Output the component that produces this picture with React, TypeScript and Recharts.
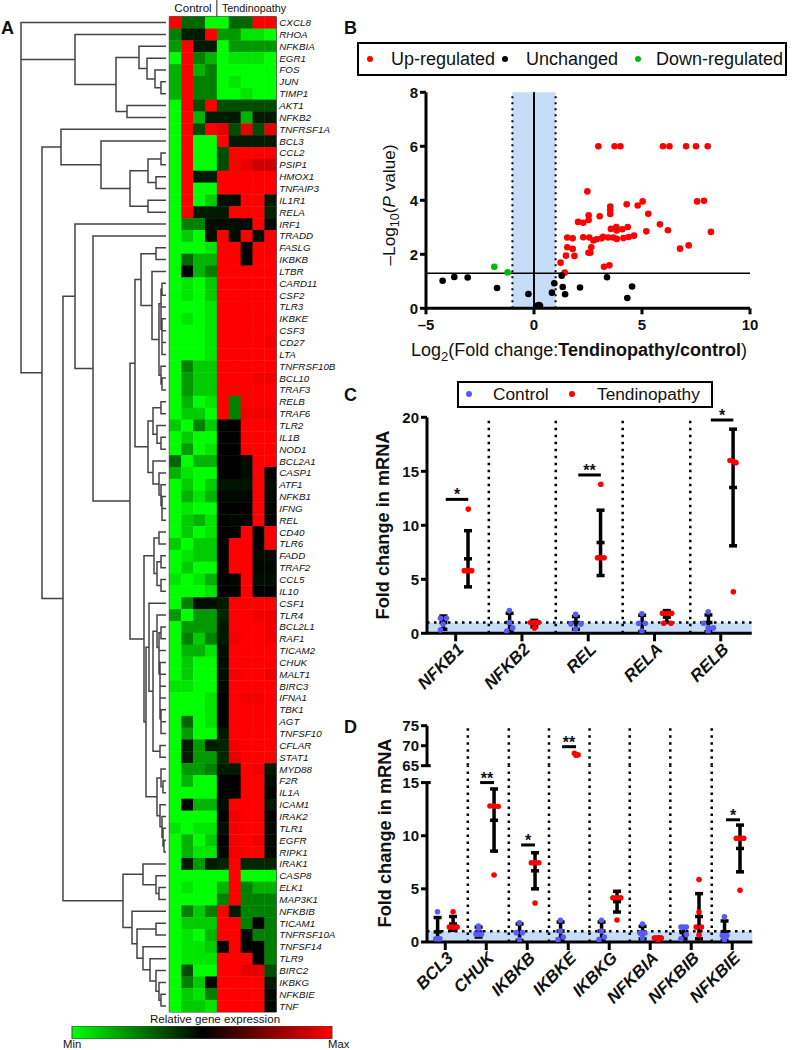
import {
  BarChart,
  Bar,
  ErrorBar,
  LineChart,
  Line,
  ReferenceArea,
  ReferenceLine,
  Scatter,
  ScatterChart,
  XAxis,
  YAxis,
} from 'recharts'

const FONT = '"Liberation Sans", Arial, sans-serif'

// Panel A: genes top to bottom, one row of heat values per gene (-10 green .. 0 black .. 10 red)
const genes = [
  'CXCL8', 'RHOA', 'NFKBIA', 'EGR1', 'FOS', 'JUN', 'TIMP1', 'AKT1', 'NFKB2', 'TNFRSF1A', 'BCL3', 'CCL2',
  'PSIP1', 'HMOX1', 'TNFAIP3', 'IL1R1', 'RELA', 'IRF1', 'TRADD', 'FASLG', 'IKBKB', 'LTBR', 'CARD11', 'CSF2',
  'TLR3', 'IKBKE', 'CSF3', 'CD27', 'LTA', 'TNFRSF10B', 'BCL10', 'TRAF3', 'RELB', 'TRAF6', 'TLR2', 'IL1B',
  'NOD1', 'BCL2A1', 'CASP1', 'ATF1', 'NFKB1', 'IFNG', 'REL', 'CD40', 'TLR6', 'FADD', 'TRAF2', 'CCL5', 'IL10',
  'CSF1', 'TLR4', 'BCL2L1', 'RAF1', 'TICAM2', 'CHUK', 'MALT1', 'BIRC3', 'IFNA1', 'TBK1', 'AGT', 'TNFSF10',
  'CFLAR', 'STAT1', 'MYD88', 'F2R', 'IL1A', 'ICAM1', 'IRAK2', 'TLR1', 'EGFR', 'RIPK1', 'IRAK1', 'CASP8',
  'ELK1', 'MAP3K1', 'NFKBIB', 'TICAM1', 'TNFRSF10A', 'TNFSF14', 'TLR9', 'BIRC2', 'IKBKG', 'NFKBIE', 'TNF',
]

const heatRows = [
  [10, -4, -4, -10, -10, -4, -4, 10, 10],
  [-5, -1, -1, 10, -6, -6, -9, -9, -10],
  [-6, 10, -1, -1, -10, -6, -6, -6, -6],
  [-10, 10, -5, -7, -10, -9, -9, -9, -10],
  [-7, 10, -7, -5, -10, -10, -10, -10, -10],
  [-7, 10, -5, -5, -10, -9, -10, -10, -10],
  [-7, 10, -5, -5, -10, -10, -9, -10, -10],
  [-10, 10, -3, 10, -3, -3, -3, -3, -3],
  [-10, 10, -7, -1, -1, -1, -7, -1, -1],
  [-10, 10, -3, 10, 9, -3, 9, -3, 9],
  [-10, 10, -10, -10, 10, -1, -1, -1, -1],
  [-10, 10, -10, -10, -3, 10, 10, 10, 10],
  [-10, 10, -10, -10, -3, 10, 9, 8, 8],
  [-10, 10, -1, -1, 10, 10, 10, 10, 10],
  [-10, 10, -10, -10, 10, 10, 10, 10, 10],
  [-10, 10, -10, -8, -0.5, -0.5, 10, 10, -1],
  [-10, 10, -1, -1, -1, 10, 10, 10, -1.5],
  [-10, -5, -5, -0.5, -0.5, -0.5, -0.5, 10, -0.5],
  [-10, -8, -10, -0.5, 10, -0.5, 10, -0.5, 10],
  [-10, -10, -10, -9, 10, 10, 0, 10, 10],
  [-10, -4, -7, -7, 10, 10, -0.2, 10, 10],
  [-10, 0, -7, -5, 10, 10, 10, 10, 10],
  [-10, -9, -10, -8, 10, 10, 10, 10, 10],
  [-10, -9, -10, -8, 10, 10, 10, 10, 10],
  [-10, -10, -10, -9, 10, 10, 10, 10, 10],
  [-10, -9, -10, -9, 10, 10, 10, 10, 10],
  [-10, -10, -10, -9, 10, 10, 10, 10, 10],
  [-10, -10, -10, -9, 10, 10, 10, 10, 9.5],
  [-10, -10, -10, -9, 10, 10, 10, 10, 10],
  [-10, -5, -8, -8, 10, 10, 10, 10, 10],
  [-10, -6, -8, -8, 10, 10, 10, 9.5, 9.5],
  [-10, -6, -8, -8, 10, 10, 10, 10, 10],
  [-10, -7, -10, -9, 10, -5, 10, 10, 10],
  [-10, -8, -8, -10, 10, -5, 9.5, 9.5, 9.5],
  [-8, -10, -5, -8, 0, 0, 10, 10, 10],
  [-10, -8, -10, -10, 0, 0, 10, 10, 10],
  [-10, -6, -10, -9, 0, 0, 10, 10, 10],
  [-4, -10, -7, -7, 0, 0, -0.5, 10, 10],
  [-7, -9, -10, -10, 0, 0, -0.5, 10, 0],
  [-10, -8, -10, -8, -0.8, -0.8, -0.8, 10, -0.5],
  [-10, -7, -9, -7, -0.3, -0.3, -0.3, 10, -0.3],
  [-10, -9, -10, -10, 0, 0, 0, 10, 0],
  [-10, -8, -7, -9, 0, -0.3, 0, 10, 0],
  [-10, -8, -10, -9, 0, 0, 10, 0, 10],
  [-8, -10, -8, -8, 0, 10, 10, 0, 10],
  [-10, -9, -8, -8, 0, 10, 10, -0.5, -0.5],
  [-10, -8, -10, -10, 0, 10, 10, -0.3, -0.3],
  [-9, -10, -9, -7, 0, -0.3, 10, -0.5, -0.5],
  [-10, -10, -10, -9, 0, 0, 10, 0, 0],
  [-10, -5, -0.5, -0.5, -1, 10, 10, 10, 10],
  [-6, -10, -6, -6, -1.5, 10, 10, 9.5, 9.5],
  [-10, -6, -6, -6, -1, 10, 10, 10, 9.5],
  [-10, -5, -8, -5, -1, 9.5, 10, 10, 9.5],
  [-10, -7, -7, -9, -0.5, 10, 10, 10, 10],
  [-10, -8, -10, -10, -0.5, 10, 10, 10, 10],
  [-10, -8, -10, -10, -0.5, 9.5, 10, 10, 9.5],
  [-9, -9, -10, -10, -0.3, 10, 10, 10, 10],
  [-10, -10, -10, -9, 0, 10, 9.5, 9.5, 10],
  [-10, -10, -10, -9, 0, 10, 10, 10, 10],
  [-10, -4, -10, -9, 0, 10, 10, 10, 10],
  [-10, -6, -10, -10, -1, 10, 10, 10, 10],
  [-10, -1, -6, -1, -1.5, 9.5, 10, 10, 10],
  [-10, -1, -6, -6, -1.5, 9, 10, 10, 10],
  [-10, -6, -6, -5, -1, -1, 10, 9.5, -1],
  [-10, -7, -10, -10, 0, 0, 10, 10, -0.5],
  [-10, -10, -10, -10, 0, 0, 10, 10, 0],
  [-10, 0, -7, -7, -0.5, 10, 10, 10, -1],
  [-10, -10, -10, -10, 0, 9.5, 10, 10, 0],
  [-9, -10, -9, -9, -0.5, 9.5, 10, 10, -0.3],
  [-10, -7, -10, -8, 0, 9.5, 10, 9.5, -0.3],
  [-10, -7, -9, -9, -0.3, 9.5, 10, 10, -0.3],
  [-10, -1, -6, -1, -1.5, 10, -1.5, -1.5, -1.5],
  [-10, -10, -10, -10, -10, 10, -10, -10, -10],
  [-10, -9, -10, -10, -7, 10, -5, -7, -7],
  [-10, -10, -10, -10, -5, 10, -5, -5, -5],
  [-10, -5, -8, -5, 10, -1, -5, -5, -5],
  [-10, -8, -8, -8, 10, 10, -5, -0.2, -5],
  [-10, -9, -10, -7, 10, 10, -0.3, -5, -5],
  [-10, -9, -9, -8, 0, 10, 0, 0, -5],
  [-10, -9, -9, -9, 10, 10, 10, 0, -5],
  [-10, -3, -10, -10, 10, 10, 9, 9, -3],
  [-10, -5, -8, -0.3, 10, 10, 10, 10, -1],
  [-10, -8, -9, -5, 10, 10, 10, 10, -0.3],
  [-10, -8, -8, -9, 10, 10, 10, 10, -0.3],
]

// Dendrogram: [height, child, child], a child is a row number or another node
const topBranch = [75, 1, [116, [139, 2, [147, 3, [155, 4, [161, 5, 6]]]], [127, 7, 8]]]
const tnfBranch = [61, 9, [101, 10, [130, [148, [161, 11, 12], [156, 13, 14]], [148, 15, 16]]]]
const ltbrBranch = [
  135,
  [141, [156, 19, 20], [152, 21, [159, [161, [162, 22, 23], [161, 24, [162, 25, [162, 26, [162, 27, 28]]]]], [161, 29, [162, 30, 31]]]]],
  [148,
    [153, [161, 32, 33], [157, 34, [161, 35, 36]]],
    [153, 37, [159, 38, [161, 39, [162, 40, [162, 41, 42]]]]]],
]
const csfBranch = [
  146,
  [149, 49, [153,
    [157, 50, [159, [161, 51, 52], [159, 53, [160, 54, [160, 55, [160, 56, [160, 57, [161, 58, [161, 59, 60]]]]]]]]],
    [160, 61, 62]]],
  [157, [161, 63, [163, 64, 65]], [160, 66, [162, 67, [163, 68, [164, 69, 70]]]]],
]
const midBranch = [130, ltbrBranch, [144, [154, [159, 43, 44], [157, [161, 45, 46], [161, 47, 48]]], csfBranch]]
const lowBranch = [
  123,
  [143, 71, [156, 72, [159, 73, 74]]],
  [132, 75, [137, [156, 76, 77], [143, 78, [150, 79, [156, 80, [159, 81, [161, 82, 83]]]]]]],
]
const dendrogram = [21, 0, [21, topBranch, [42, tnfBranch, [63, [75, 17, [93, 18, midBranch]], lowBranch]]]]

const scaleStops = ['#00ff00', '#000000', '#ff0000']

// Panel B: [log2 fold change, -log10 P]
const upRegulated = [
  [2.98, 6], [3.73, 6], [4, 6], [5.97, 6], [6.27, 6], [7.04, 6], [7.5, 6], [8.04, 6], [2.47, 4.33], [7.55, 3.96],
  [7.87, 3.98], [5.03, 3.96], [4.8, 3.81], [4.29, 3.85], [3.53, 3.77], [3.53, 3.64], [3.53, 3.49], [5.29, 3.5],
  [2.53, 3.44], [3.04, 3.41], [2.53, 3.27], [2.04, 3.2], [2.28, 3.17], [5.83, 3.11], [4.34, 3.01], [3.81, 3.01],
  [3.56, 2.94], [4.09, 2.93], [3.83, 2.88], [5.2, 2.85], [6.2, 2.89], [8.19, 2.83], [1.54, 2.62], [1.79, 2.59],
  [2.28, 2.63], [2.56, 2.62], [2.75, 2.51], [2.9, 2.56], [3.13, 2.59], [3.2, 2.65], [3.44, 2.62], [3.67, 2.62],
  [3.83, 2.57], [4.14, 2.6], [4.38, 2.64], [4.63, 2.69], [2.65, 2.26], [1.54, 2.26], [1.79, 2.2], [6.76, 2.21],
  [7.16, 2.33], [2.52, 2.06], [2.61, 2.06], [1.48, 1.95], [1.87, 1.94], [1.23, 1.69], [3.49, 1.59], [3.24, 1.54],
  [1.42, 1.32],
]
const unchanged = [
  [-4.23, 1.02], [-3.69, 1.16], [-3.07, 1.14], [-1.71, 0.75], [-0.26, 0.53], [0.23, 0.12], [0.12, 0.09], [0.28, 0.09],
  [0.83, 0.58], [0.94, 0.93], [1.28, 1.21], [1.33, 0.79], [1.44, 0.52], [2.13, 0.77], [3.38, 1.15], [4.54, 0.81],
  [4.32, 0.38],
]
const downRegulated = [[-1.84, 1.54], [-1.22, 1.33]]

// Panel C
const cGenes = ['NFKB1', 'NFKB2', 'REL', 'RELA', 'RELB']
const cControl = [
  [-0.23, 1.4], [-0.14, 1.4], [-0.19, 0.85], [-0.23, 0.3],
  [0.81, 2.1], [0.81, 1], [0.86, 0.5], [0.77, 0.2],
  [1.81, 1.75], [1.74, 0.87], [1.89, 0.87], [1.81, 0.4],
  [2.81, 1.8], [2.76, 0.93], [2.86, 0.93], [2.81, 0.2],
  [3.81, 2], [3.74, 0.93], [3.81, 0.5], [3.89, 0.5], [3.81, 0.15],
]
const cTendinopathy = [
  [0.19, 11.5], [0.13, 5.8], [0.19, 5.8], [0.24, 5.8],
  [1.13, 1], [1.19, 1], [1.25, 1], [1.19, 0.5],
  [2.19, 13.8], [2.14, 7], [2.19, 7], [2.24, 7],
  [3.12, 1.85], [3.19, 1.85], [3.26, 1.85], [3.14, 0.93], [3.25, 0.93],
  [4.14, 16], [4.19, 15.9], [4.23, 15.8], [4.19, 3.85],
]
const cControlMean = [1, 1, 1, 0.93, 1]
const cControlHigh = [1.6, 1.85, 1.55, 1.67, 1.7]
const cControlLow = [0.37, 0.15, 0.37, 0.15, 0.15]
const cTendMean = [6.9, 1, 8.4, 1.5, 13.5]
const cTendHigh = [9.5, 1.2, 11.4, 2.1, 18.9]
const cTendLow = [4.3, 0.6, 5.35, 1, 8.1]
const cSeparators = [0.5, 1.51, 2.52, 3.54]
const cSignificance = [
  { from: -0.15, to: 0.19, y: 12.4, stars: '*' },
  { from: 1.85, to: 2.19, y: 14.66, stars: '**' },
  { from: 3.85, to: 4.19, y: 19.75, stars: '*' },
]

// Panel D
const dGenes = ['BCL3', 'CHUK', 'IKBKB', 'IKBKE', 'IKBKG', 'NFKBIA', 'NFKBIB', 'NFKBIE']
const dControl = [
  [-0.19, 2.85], [-0.23, 0.3], [-0.18, 0.3], [-0.13, 0.3],
  [0.81, 1.5], [0.81, 1.25], [0.75, 0.72], [0.81, 0.72], [0.88, 0.72],
  [1.81, 1.8], [1.73, 0.88], [1.88, 0.88], [1.81, 0.22],
  [2.81, 2.05], [2.81, 1.03], [2.88, 0.47], [2.75, 0.22],
  [3.81, 2.05], [3.81, 1.03], [3.88, 0.47], [3.75, 0.22],
  [4.81, 1.7], [4.75, 0.85], [4.81, 0.85], [4.87, 0.85], [4.81, 0.38],
  [5.75, 1.4], [5.88, 1.4], [5.81, 1.4], [5.88, 0.7], [5.75, 0.3],
  [6.81, 2.38], [6.76, 0.6], [6.81, 0.6], [6.87, 0.6], [6.81, 0.22],
]
const dTendinopathy = [
  [0.19, 2.85], [0.1, 1.4], [0.19, 1.4], [0.29, 1.4],
  [1.19, 6.3], [1.09, 12.8], [1.19, 12.8], [1.29, 12.75],
  [2.19, 3.67], [2.1, 7.45], [2.19, 7.45], [2.28, 7.45],
  [4.19, 2.07], [4.09, 4.17], [4.19, 4.17], [4.28, 4.17],
  [5.1, 0.38], [5.19, 0.38], [5.27, 0.38], [5.19, 0.16],
  [6.19, 5.87], [6.19, 2.82], [6.12, 1.4], [6.25, 1.4], [6.19, 0.66],
  [7.19, 4.86], [7.1, 9.76], [7.19, 9.76], [7.28, 9.76],
]
const dTendinopathyHigh = [[3.15, 68.1], [3.19, 67.6], [3.24, 67.7]]
const dControlMean = [0.95, 0.95, 0.9, 1.03, 1.03, 0.88, 0.88, 0.95]
const dControlHighs = [2.3, 1.4, 1.7, 1.88, 1.88, 1.47, 1.4, 1.98]
const dControlLows = [0.15, 0.47, 0.15, 0.15, 0.15, 0.3, 0.3, 0.15]
const dTendMean = [1.7, 11.45, 6.7, null, 3.8, 0.35, 2.4, 8.8]
const dTendHighs = [2.4, 14.4, 8.4, null, 4.77, 0.45, 4.55, 11]
const dTendLows = [1.1, 8.55, 5, null, 2.82, 0.25, 0.3, 6.6]
const dSeparators = [0.55, 1.55, 2.53, 3.52, 4.5, 5.49, 6.5]
const dSignificance = [
  { from: 0.85, to: 1.19, y: 15, stars: '**' },
  { from: 1.85, to: 2.19, y: 9.13, stars: '*' },
  { from: 6.85, to: 7.19, y: 11.5, stars: '*' },
]
const dSignificanceHigh = [{ from: 2.85, to: 3.19, y: 69.75, stars: '**' }]

const heatColor = (v: number) => {
  const level = Math.round((Math.abs(v) / 10) * 255)
  return v < 0 ? `rgb(0,${level},0)` : `rgb(${level},0,0)`
}

const heatCells = heatRows.flatMap((values, row) =>
  values.map((value, col) => ({ x: col, y: row, value })),
)

// walks the tree, pushing one bracket per node; returns [height, row position] of the node
const flattenTree = (node: any, out: any[]): [number, number] => {
  if (typeof node === 'number') return [166, node]
  const [height, a, b] = node
  const [ax, ay] = flattenTree(a, out)
  const [bx, by] = flattenTree(b, out)
  out.push({ x: ax, y: ay }, { x: height, y: ay }, { x: height, y: by }, { x: bx, y: by }, { x: bx, y: null })
  return [height, (ay + by) / 2]
}
const dendrogramPath: any[] = []
flattenTree(dendrogram, dendrogramPath)

const toPoints = (list: number[][]) => list.map(([x, y]) => ({ x, y }))

const toBars = (offset: number, means: any[], highs: any[], lows: any[]) =>
  means.flatMap((mean, i) =>
    mean === null ? [] : [{ x: i + offset, y: mean, err: [mean - lows[i], highs[i] - mean] }],
  )

const Tag = ({ x, y, size, children, bold, rotate, center }: any) => (
  <div
    style={{
      position: 'absolute',
      left: x,
      top: y,
      fontFamily: FONT,
      fontSize: size,
      fontWeight: bold ? 700 : 400,
      lineHeight: 1,
      whiteSpace: 'nowrap',
      color: '#111',
      transform: rotate
        ? 'translate(-50%,-50%) rotate(-90deg)'
        : center
          ? 'translate(-50%,-50%)'
          : undefined,
    }}
  >
    {children}
  </div>
)

const Dot = ({ fill, r }: any) => (
  <span
    style={{
      position: 'absolute',
      width: r * 2,
      height: r * 2,
      borderRadius: '50%',
      background: fill,
      left: -r,
      top: -r,
    }}
  />
)

const LegendBox = ({ left, top, width, height, size, items }: any) => (
  <div
    style={{
      position: 'absolute',
      left,
      top,
      width,
      height,
      boxSizing: 'border-box',
      border: '2px solid #000',
    }}
  >
    {items.map((item: any) => (
      <div key={item.label}>
        <div style={{ position: 'absolute', left: item.dot, top: height / 2 - 2 }}>
          <Dot fill={item.color} r={3.2} />
        </div>
        <div
          style={{
            position: 'absolute',
            left: item.text,
            top: height / 2 - size / 2 - 2,
            fontFamily: FONT,
            fontSize: size,
            lineHeight: 1,
            whiteSpace: 'nowrap',
            color: '#111',
          }}
        >
          {item.label}
        </div>
      </div>
    ))}
  </div>
)

const axisLine = { stroke: '#000', strokeWidth: 3 }
const tickLine = { stroke: '#000', strokeWidth: 3 }
const tickFont = { fontFamily: FONT, fontSize: 15, fontWeight: 700, fill: '#111' }

const round = (color: string, r: number) => (p: any) => <circle cx={p.cx} cy={p.cy} r={r} fill={color} />
const meanMark = (p: any) => <rect x={p.cx - 4} y={p.cy - 1.75} width={8} height={3.5} fill="#000" />
const heatCell = (p: any) => (
  <rect
    x={p.cx - 107 / 18}
    y={p.cy - 5.925}
    width={107 / 9 + 0.4}
    height={12.25}
    fill={heatColor(p.payload.value)}
  />
)

const geneTick = (names: string[]) => (p: any) => (
  <g transform={`translate(${p.x + 9},${p.y + 7})`}>
    <text
      transform="rotate(-45)"
      textAnchor="end"
      fontFamily={FONT}
      fontSize={17}
      fontWeight={700}
      fontStyle="italic"
      fill="#111"
    >
      {names[p.payload.value]}
    </text>
  </g>
)

// One dot-and-whisker panel; panel D uses it twice for the broken y axis
function DotChart({
  left, top, width, height, margin, xDomain, yDomain, yTicks, names, separators,
  band, control, tendinopathy, controlBars, tendBars, significance, brokenAt, breakAt,
}: any) {
  return (
    <div style={{ position: 'absolute', left, top }}>
      <ScatterChart width={width} height={height} margin={margin}>
        <XAxis
          type="number"
          dataKey="x"
          domain={xDomain}
          allowDataOverflow
          hide={!names}
          ticks={names ? names.map((_: string, i: number) => i) : undefined}
          interval={0}
          height={70}
          axisLine={axisLine}
          tickLine={tickLine}
          tickSize={8}
          tick={names ? geneTick(names) : false}
        />
        <YAxis
          type="number"
          dataKey="y"
          domain={yDomain}
          allowDataOverflow
          ticks={yTicks}
          interval={0}
          width={44}
          axisLine={brokenAt ? false : axisLine}
          tickLine={tickLine}
          tickSize={6}
          tick={tickFont}
        />
        {band && <ReferenceArea x1={xDomain[0]} x2={xDomain[1]} y1={0} y2={1} fill="#c6dcf7" fillOpacity={1} stroke="none" />}
        {band && <ReferenceLine y={1} stroke="#000" strokeWidth={2.5} strokeDasharray="2.5 4.5" />}
        {separators.map((x: number) => (
          <ReferenceLine key={x} x={x} stroke="#000" strokeWidth={2.5} strokeDasharray="2.5 4.5" />
        ))}
        {brokenAt && (
          <ReferenceLine
            segment={[{ x: xDomain[0], y: 0 }, { x: xDomain[0], y: brokenAt }]}
            stroke="#000"
            strokeWidth={3}
          />
        )}
        {breakAt !== undefined && (
          <ReferenceLine
            segment={[{ x: xDomain[0], y: breakAt }, { x: xDomain[0] + 0.09, y: breakAt }]}
            stroke="#000"
            strokeWidth={3}
          />
        )}
        {significance.map((s: any) => (
          <ReferenceLine
            key={s.from}
            segment={[{ x: s.from, y: s.y }, { x: s.to, y: s.y }]}
            stroke="#000"
            strokeWidth={3}
            label={{ value: s.stars, position: 'top', offset: -1, fontFamily: FONT, fontSize: 16, fontWeight: 700, fill: '#111' }}
          />
        ))}
        {controlBars && (
          <Scatter data={controlBars} shape={meanMark} isAnimationActive={false}>
            <ErrorBar dataKey="err" direction="y" width={4} strokeWidth={3.5} stroke="#000" isAnimationActive={false} />
          </Scatter>
        )}
        {tendBars && (
          <Scatter data={tendBars} shape={meanMark} isAnimationActive={false}>
            <ErrorBar dataKey="err" direction="y" width={4} strokeWidth={3.5} stroke="#000" isAnimationActive={false} />
          </Scatter>
        )}
        {control && (
          <Scatter data={toPoints(control)} fill="#5a5af5" shape={round('#5a5af5', 2.8)} isAnimationActive={false} />
        )}
        <Scatter data={toPoints(tendinopathy)} fill="#ff0000" shape={round('#ff0000', 2.8)} isAnimationActive={false} />
      </ScatterChart>
    </div>
  )
}

export default function App() {
  const rowDomain = [-0.5 - 16.7 / 11.85, 83.5]
  const rows = genes.map((_, i) => i)
  const bTicksX = [-5, 0, 5, 10]
  const bTicksY = [0, 2, 4, 6, 8]

  return (
    <div style={{ position: 'absolute', left: 0, top: 0, width: 793, height: 1050, background: '#fff', overflow: 'hidden' }}>
      {/* Panel A */}
      <Tag x={1} y={19} size={18} bold>A</Tag>
      <Tag x={193} y={8} size={11.6} center>Control</Tag>
      <Tag x={254} y={8} size={10.8} center>Tendinopathy</Tag>

      <div style={{ position: 'absolute', left: 0, top: 0 }}>
        <LineChart width={170} height={1014} margin={{ top: 0, right: 0, bottom: 2, left: 0 }}>
          <XAxis type="number" dataKey="x" domain={[0, 170]} hide />
          <YAxis type="number" dataKey="y" domain={rowDomain} reversed hide />
          <Line
            data={dendrogramPath}
            dataKey="y"
            type="linear"
            stroke="#444"
            strokeWidth={1.5}
            dot={false}
            activeDot={false}
            isAnimationActive={false}
          />
        </LineChart>
      </div>

      <div style={{ position: 'absolute', left: 165, top: 0 }}>
        <ScatterChart width={178} height={1014} margin={{ top: 0, right: 2, bottom: 2, left: 4.3 }}>
          <XAxis type="number" dataKey="x" domain={[-0.5, 8.5]} allowDataOverflow hide />
          <YAxis
            type="number"
            dataKey="y"
            orientation="right"
            domain={rowDomain}
            allowDataOverflow
            reversed
            ticks={rows}
            interval={0}
            width={64.7}
            axisLine={false}
            tickLine={false}
            tickSize={0}
            tickMargin={3}
            tickFormatter={(i: number) => genes[i]}
            tick={{ fontFamily: FONT, fontSize: 9.8, fontStyle: 'italic', fill: '#111' }}
          />
          <Scatter data={heatCells} shape={heatCell} isAnimationActive={false} />
          <ReferenceArea x1={-0.5} x2={8.5} y1={-0.5} y2={83.5} fill="none" stroke="#333" strokeWidth={1} />
          <ReferenceLine x={3.5} stroke="#222" strokeWidth={1} />
        </ScatterChart>
      </div>

      <Tag x={215} y={1019} size={11.6} center>Relative gene expression</Tag>
      <div style={{ position: 'absolute', left: 71, top: 1026 }}>
        <BarChart
          width={262}
          height={13}
          layout="vertical"
          data={[{ name: 'scale', v: 1 }]}
          barCategoryGap={0}
          margin={{ top: 0, right: 1, bottom: 0, left: 1 }}
        >
          <defs>
            <linearGradient id="expr" x1="0" y1="0" x2="1" y2="0">
              {scaleStops.map((c, i) => (
                <stop key={c} offset={i / (scaleStops.length - 1)} stopColor={c} />
              ))}
            </linearGradient>
          </defs>
          <XAxis type="number" domain={[0, 1]} hide />
          <YAxis type="category" dataKey="name" hide />
          <Bar dataKey="v" fill="url(#expr)" stroke="#444" strokeWidth={1} isAnimationActive={false} />
        </BarChart>
      </div>
      <Tag x={63} y={1038.5} size={11.3}>Min</Tag>
      <Tag x={328} y={1038.5} size={11.3}>Max</Tag>

      {/* Panel B */}
      <Tag x={344} y={19} size={18} bold>B</Tag>
      <LegendBox
        left={357}
        top={42}
        width={430}
        height={34}
        size={18}
        items={[
          { label: 'Up-regulated', color: '#ff0000', dot: 11, text: 32 },
          { label: 'Unchanged', color: '#000', dot: 146, text: 167 },
          { label: 'Down-regulated', color: '#00bb00', dot: 279, text: 297 },
        ]}
      />
      <div style={{ position: 'absolute', left: 380, top: 80 }}>
        <ScatterChart width={400} height={260} margin={{ top: 12.3, right: 30, bottom: 1.7, left: 0 }}>
          <XAxis
            type="number"
            dataKey="x"
            domain={[-5, 10]}
            allowDataOverflow
            ticks={bTicksX}
            interval={0}
            height={30}
            axisLine={axisLine}
            tickLine={tickLine}
            tickSize={6}
            tickMargin={5}
            tick={tickFont}
            tickFormatter={(v: number) => String(v).replace('-', '–')}
          />
          <YAxis
            type="number"
            dataKey="y"
            domain={[0, 8]}
            allowDataOverflow
            ticks={bTicksY}
            interval={0}
            width={46}
            axisLine={axisLine}
            tickLine={tickLine}
            tickSize={6}
            tick={tickFont}
          />
          <ReferenceArea x1={-1} x2={1} y1={0} y2={8} fill="#c6dcf7" fillOpacity={1} stroke="none" />
          <ReferenceLine x={-1} stroke="#000" strokeWidth={2} strokeDasharray="2 4" />
          <ReferenceLine x={1} stroke="#000" strokeWidth={2} strokeDasharray="2 4" />
          <ReferenceLine x={0} stroke="#000" strokeWidth={2} />
          <ReferenceLine y={1.3} stroke="#000" strokeWidth={1.5} />
          <Scatter data={toPoints(upRegulated)} shape={round('#ff0000', 3.3)} isAnimationActive={false} />
          <Scatter data={toPoints(unchanged)} shape={round('#000', 3.3)} isAnimationActive={false} />
          <Scatter data={toPoints(downRegulated)} shape={round('#00bb00', 3.3)} isAnimationActive={false} />
        </ScatterChart>
      </div>
      <Tag x={391} y={205} size={17.2} rotate>
        –Log<sub style={{ fontSize: 12.5 }}>10</sub>(<i>P</i> value)
      </Tag>
      <Tag x={579} y={352} size={18} center>
        Log<sub style={{ fontSize: 13 }}>2</sub>(Fold change:<b>Tendinopathy/control</b>)
      </Tag>

      {/* Panel C */}
      <Tag x={344} y={386} size={18} bold>C</Tag>
      <LegendBox
        left={457}
        top={381}
        width={256}
        height={26.5}
        size={17.3}
        items={[
          { label: 'Control', color: '#5a5af5', dot: 10, text: 34 },
          { label: 'Tendinopathy', color: '#ff0000', dot: 113, text: 138 },
        ]}
      />
      <DotChart
        left={383}
        top={395}
        width={375}
        height={310}
        margin={{ top: 22.3, right: 6.3, bottom: 1.7, left: 0 }}
        xDomain={[-0.433, 4.467]}
        yDomain={[0, 20]}
        yTicks={[0, 5, 10, 15, 20]}
        names={cGenes}
        separators={cSeparators}
        band
        control={cControl}
        tendinopathy={cTendinopathy}
        controlBars={toBars(-0.186, cControlMean, cControlHigh, cControlLow)}
        tendBars={toBars(0.186, cTendMean, cTendHigh, cTendLow)}
        significance={cSignificance}
      />
      <Tag x={383} y={525} size={18.2} bold rotate>Fold change in mRNA</Tag>

      {/* Panel D, two charts for the broken axis */}
      <Tag x={344} y={718} size={18} bold>D</Tag>
      <DotChart
        left={383}
        top={710}
        width={375}
        height={65.7}
        margin={{ top: 15.7, right: 5.7, bottom: 10, left: 0 }}
        xDomain={[-0.446, 7.49]}
        yDomain={[65, 75]}
        yTicks={[65, 70, 75]}
        separators={dSeparators}
        tendinopathy={dTendinopathyHigh}
        significance={dSignificanceHigh}
        breakAt={65}
      />
      <DotChart
        left={383}
        top={765.7}
        width={375}
        height={248}
        margin={{ top: 0, right: 5.7, bottom: 2, left: 0 }}
        xDomain={[-0.446, 7.49]}
        yDomain={[0, 16.56]}
        yTicks={[0, 5, 10, 15]}
        names={dGenes}
        separators={dSeparators}
        band
        control={dControl}
        tendinopathy={dTendinopathy}
        controlBars={toBars(-0.187, dControlMean, dControlHighs, dControlLows)}
        tendBars={toBars(0.19, dTendMean, dTendHighs, dTendLows)}
        significance={dSignificance}
        brokenAt={15}
        breakAt={15}
      />
      <Tag x={385} y={833} size={18.2} bold rotate>Fold change in mRNA</Tag>
    </div>
  )
}
